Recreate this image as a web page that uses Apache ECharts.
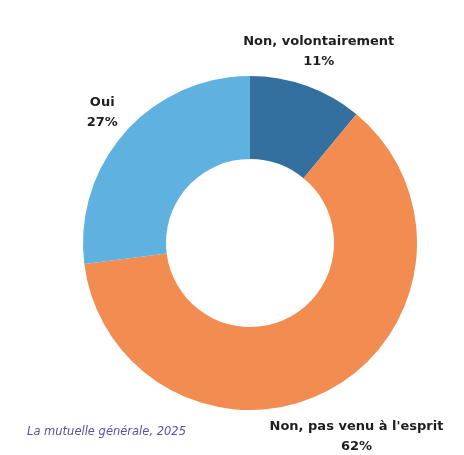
<!DOCTYPE html>
<html>
<head>
<meta charset="utf-8">
<script src="https://cdn.jsdelivr.net/npm/echarts@6/dist/echarts.min.js"></script>
<style>html,body{margin:0;padding:0;background:#fff;}#c{width:464px;height:455px;}</style>
</head>
<body>
<div id="c"></div>
<script>
const categories = ['Non, volontairement', 'Non, pas venu à l\'esprit', 'Oui'];
const values = [11, 62, 27];
const sourceText = 'La mutuelle générale, 2025';

const colors = ['#3370a0', '#f28c50', '#5fb2e0'];
const cx = 250, cy = 243, rIn = 84, rOut = 167;
const labelR = [203, 221, 197];

const total = values.reduce((a, b) => a + b, 0);
const mids = [];
let acc = 0;
values.forEach(v => { mids.push((acc + v / 2) / total * 2 * Math.PI); acc += v; });

const chart = echarts.init(document.getElementById('c'), null, {renderer: 'canvas'});
chart.setOption({
  backgroundColor: '#ffffff',
  animation: false,
  title: {
    text: sourceText,
    left: 22, top: 421,
    textStyle: {fontFamily: 'DejaVu Sans', fontStyle: 'italic', fontWeight: 'normal', fontSize: 11.5, color: '#5a4ea8'}
  },
  series: [{
    type: 'pie',
    center: [cx, cy],
    radius: [rIn, rOut],
    startAngle: 90,
    clockwise: true,
    data: categories.map((n, i) => ({name: n, value: values[i], itemStyle: {color: colors[i]}})),
    itemStyle: {borderWidth: 0},
    label: {
      show: true,
      position: 'outside',
      formatter: '{b}\n{c}%',
      fontFamily: 'DejaVu Sans',
      fontWeight: 'bold',
      fontSize: 13,
      lineHeight: 20,
      color: '#1e1e1e',
      align: 'center',
      overflow: 'none',
      width: 220
    },
    labelLine: {show: false},
    labelLayout: function (p) {
      const i = p.dataIndex;
      return {
        x: cx + labelR[i] * Math.sin(mids[i]),
        y: cy - labelR[i] * Math.cos(mids[i]),
        align: 'center',
        verticalAlign: 'middle',
        width: 220
      };
    },
    emphasis: {disabled: true}
  }]
});
</script>
</body>
</html>
